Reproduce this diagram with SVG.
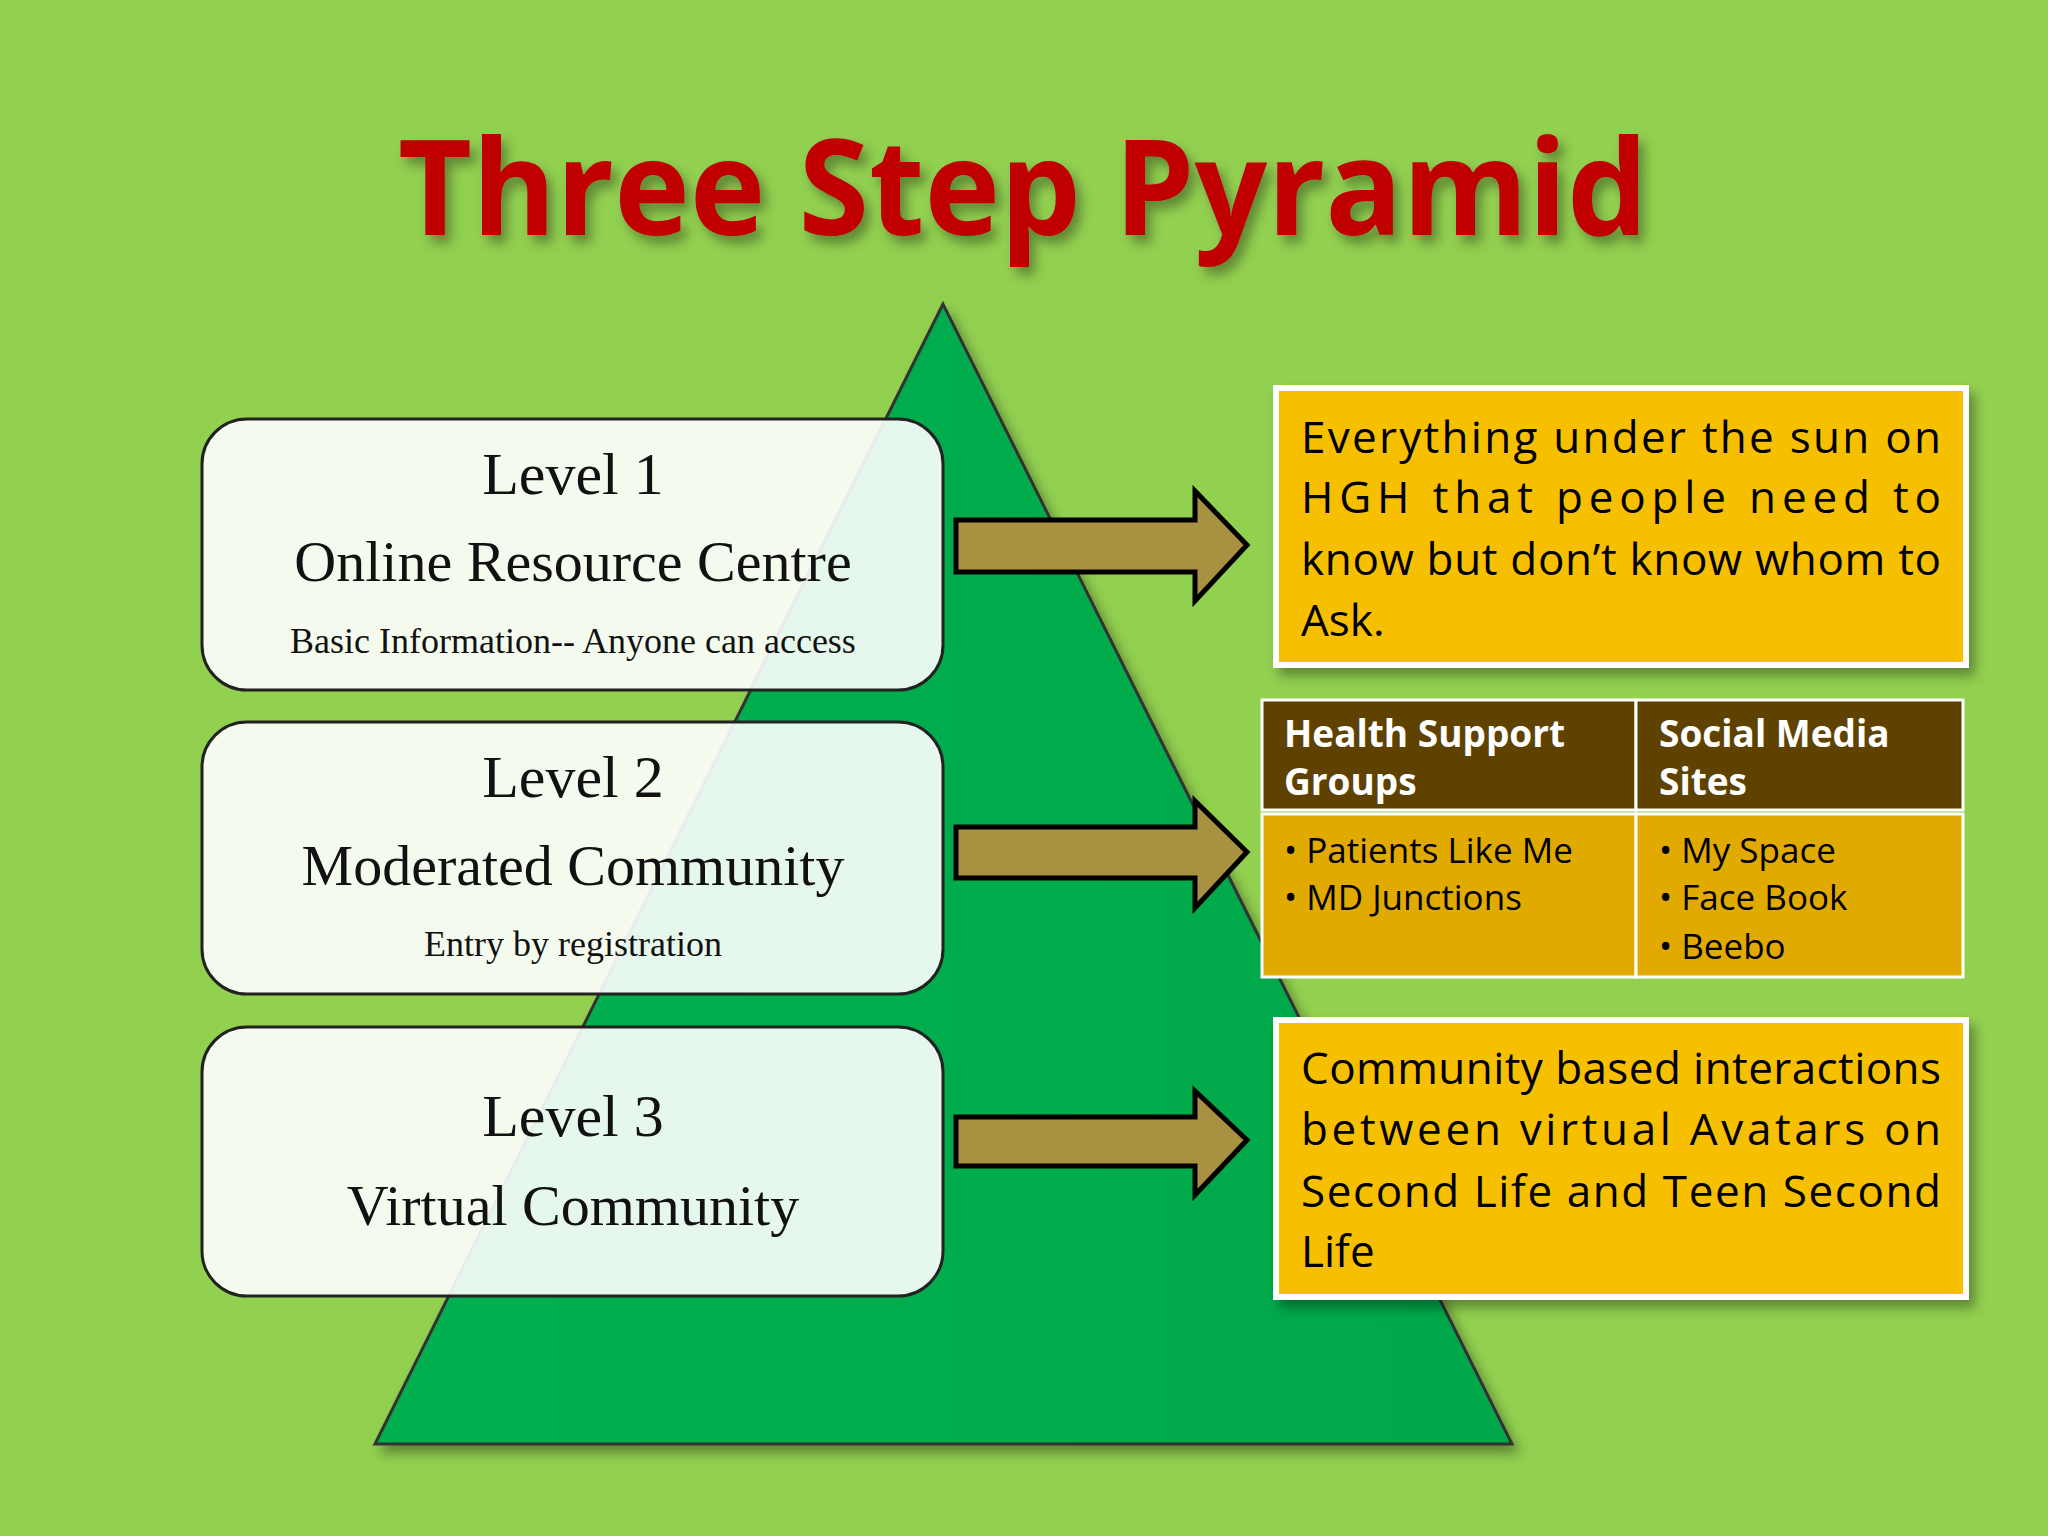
<svg xmlns="http://www.w3.org/2000/svg" width="2048" height="1536" viewBox="0 0 2048 1536">
<defs>
<filter id="sh" x="-10%" y="-10%" width="130%" height="130%"><feDropShadow dx="6" dy="8" stdDeviation="6" flood-color="#000" flood-opacity="0.35"/></filter>
<linearGradient id="pg" x1="0" y1="0" x2="1" y2="0"><stop offset="0" stop-color="#00b050"/><stop offset="1" stop-color="#00a84a"/></linearGradient>
</defs>
<style>
.lv{font-family:"Liberation Serif",serif;fill:#111;text-anchor:middle}
.rt{font-family:"Open Sans","Noto Sans",sans-serif;font-size:44px;fill:#000}
.hd{font-family:"Open Sans",sans-serif;font-weight:bold;font-size:37px;fill:#fff}
.it{font-family:"Open Sans",sans-serif;font-size:35px;fill:#000}
.box{fill:#ffffff;fill-opacity:0.9;stroke:#222;stroke-width:3}
.arr{fill:#a89140;stroke:#000;stroke-width:5;stroke-linejoin:miter}
.yb{fill:#f6bf00;stroke:#fff;stroke-width:6}
</style>
<rect width="2048" height="1536" fill="#92d050"/>
<text x="1023" y="235" text-anchor="middle" font-family="Open Sans,sans-serif" font-weight="bold" font-size="132" fill="#c00000" textLength="1250" lengthAdjust="spacingAndGlyphs" filter="url(#sh)">Three Step Pyramid</text>
<g id="pyramid"><polygon points="943,304 375,1444 1512,1444" fill="url(#pg)" stroke="#333" stroke-width="3" filter="url(#sh)"/></g>
<g id="level1"><rect class="box" x="202" y="419" width="741" height="271" rx="45"/>
<text class="lv" x="573" y="494" font-size="60">Level 1</text>
<text class="lv" x="573" y="581" font-size="58">Online Resource Centre</text>
<text class="lv" x="573" y="653" font-size="36">Basic Information-- Anyone can access</text></g>
<g id="level2"><rect class="box" x="202" y="722" width="741" height="272" rx="45"/>
<text class="lv" x="573" y="797" font-size="60">Level 2</text>
<text class="lv" x="573" y="885" font-size="58">Moderated Community</text>
<text class="lv" x="573" y="956" font-size="36">Entry by registration</text></g>
<g id="level3"><rect class="box" x="202" y="1027" width="741" height="269" rx="45"/>
<text class="lv" x="573" y="1136" font-size="60">Level 3</text>
<text class="lv" x="573" y="1225" font-size="58">Virtual Community</text></g>
<g id="connectors">
<polygon class="arr" points="956,520 1195,520 1195,491 1247,545 1195,601 1195,572 956,572"/>
<polygon class="arr" points="956,827 1195,827 1195,801 1247,852 1195,908 1195,878 956,878"/>
<polygon class="arr" points="956,1117 1195,1117 1195,1091 1247,1140 1195,1195 1195,1166 956,1166"/>
</g>
<g id="box1"><rect class="yb" x="1276" y="388" width="690" height="277" filter="url(#sh)"/>
<text class="rt" x="1301" y="453" textLength="640">Everything under the sun on</text>
<text class="rt" x="1301" y="513" textLength="640">HGH that people need to</text>
<text class="rt" x="1301" y="575" textLength="640">know but don’t know whom to</text>
<text class="rt" x="1301" y="636">Ask.</text></g>
<g id="table">
<rect x="1262" y="700" width="374" height="110" fill="#5f4200" stroke="#fff" stroke-width="3"/>
<rect x="1636" y="700" width="327" height="110" fill="#5f4200" stroke="#fff" stroke-width="3"/>
<rect x="1262" y="814" width="374" height="163" fill="#e1aa00" stroke="#fff" stroke-width="3"/>
<rect x="1636" y="814" width="327" height="163" fill="#e1aa00" stroke="#fff" stroke-width="3"/>
<text class="hd" x="1284" y="747">Health Support</text>
<text class="hd" x="1284" y="795">Groups</text>
<text class="hd" x="1659" y="747">Social Media</text>
<text class="hd" x="1659" y="795">Sites</text>
<text class="it" x="1284" y="863">•  Patients Like Me</text>
<text class="it" x="1284" y="910">•  MD Junctions</text>
<text class="it" x="1659" y="863">•  My Space</text>
<text class="it" x="1659" y="910">•  Face Book</text>
<text class="it" x="1659" y="959">•  Beebo</text>
</g>
<g id="box3"><rect class="yb" x="1276" y="1020" width="690" height="277" filter="url(#sh)"/>
<text class="rt" x="1301" y="1084" textLength="640">Community based interactions</text>
<text class="rt" x="1301" y="1145" textLength="640">between virtual Avatars on</text>
<text class="rt" x="1301" y="1207" textLength="640">Second Life and Teen Second</text>
<text class="rt" x="1301" y="1267">Life</text></g>
</svg>
